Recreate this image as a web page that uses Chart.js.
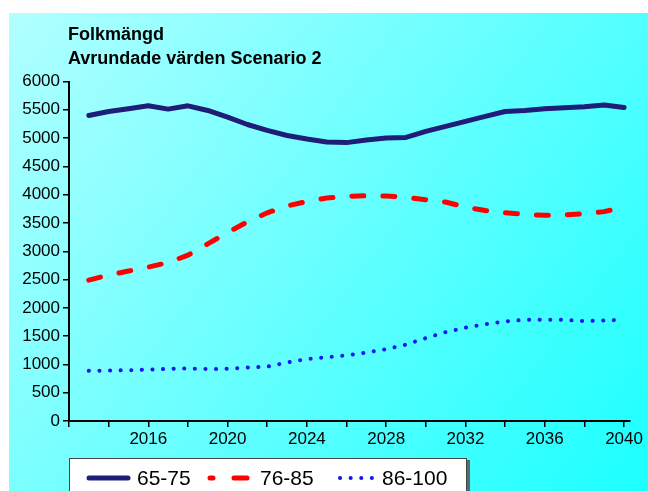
<!DOCTYPE html>
<html>
<head>
<meta charset="utf-8">
<script src="https://cdn.jsdelivr.net/npm/chart.js@4/dist/chart.umd.min.js"></script>
<style>
    body { margin: 0; background: #fff; }
    canvas { display: block; }
</style>
</head>
<body>
<canvas id="folkChart" width="648" height="491"></canvas>
<script>
// Folkmängd, avrundade värden scenario 2
const years = [2013, 2014, 2015, 2016, 2017, 2018, 2019, 2020, 2021, 2022, 2023, 2024, 2025, 2026,
    2027, 2028, 2029, 2030, 2031, 2032, 2033, 2034, 2035, 2036, 2037, 2038, 2039, 2040];
const age65to75 = [5400, 5470, 5520, 5570, 5512, 5570, 5488, 5370, 5240, 5135, 5046, 4983, 4930, 4920,
    4965, 5000, 5012, 5118, 5206, 5295, 5383, 5470, 5488, 5518, 5535, 5553, 5583, 5540];
const age76to85 = [2490, 2580, 2650, 2720, 2800, 2930, 3130, 3330, 3520, 3680, 3800, 3880, 3940, 3970,
    3980, 3975, 3955, 3910, 3870, 3780, 3720, 3680, 3650, 3635, 3640, 3665, 3700, 3780];
const age86to100 = [886, 892, 897, 908, 920, 928, 920, 922, 945, 960, 1035, 1095, 1128, 1160,
    1210, 1270, 1350, 1465, 1570, 1650, 1712, 1760, 1788, 1790, 1787, 1766, 1776, 1790];
const seriesNames = ['65-75', '76-85', '86-100'];
const tickYears = [2012, 2014, 2016, 2018, 2020, 2022, 2024, 2026, 2028, 2030, 2032, 2034, 2036, 2038, 2040];
const labelYears = [2016, 2020, 2024, 2028, 2032, 2036, 2040];
const titleLines = ['Folkmängd', 'Avrundade värden Scenario 2'];

const FONT = "'Liberation Sans', Arial, sans-serif";
const toPoints = vals => years.map((yr, i) => ({ x: yr, y: vals[i] }));

// bakgrund med gradient
const bgPlugin = {
    id: 'bg',
    beforeDraw(chart) {
        const ctx = chart.ctx;
        ctx.save();
        ctx.fillStyle = '#fff';
        ctx.fillRect(0, 0, chart.width, chart.height);
        const g = ctx.createLinearGradient(9, 13, chart.width, chart.height);
        g.addColorStop(0, '#b2ffff');
        g.addColorStop(1, '#1cffff');
        ctx.fillStyle = g;
        ctx.fillRect(9, 13, chart.width - 9, chart.height - 13);
        ctx.restore();
    }
};

// titel + legend ritas för hand
const decoPlugin = {
    id: 'deco',
    afterDraw(chart) {
        const ctx = chart.ctx;
        ctx.save();
        ctx.fillStyle = '#000';
        ctx.font = 'bold 18px ' + FONT;
        ctx.textBaseline = 'alphabetic';
        ctx.fillText(titleLines[0], 68, 40);
        ctx.fillText(titleLines[1], 68, 64);

        // legendruta
        ctx.fillStyle = '#5a6a6a';
        ctx.fillRect(71, 460, 399, 40);
        ctx.fillStyle = '#fff';
        ctx.fillRect(69, 458, 398, 40);
        ctx.strokeStyle = '#444';
        ctx.lineWidth = 1;
        ctx.strokeRect(69.5, 458.5, 397, 40);

        const ds = chart.data.datasets;
        const samples = [
            { x0: 89, x1: 128, tx: 137, dash: [], dashOffset: 0 },
            { x0: 210, x1: 247, tx: 260, dash: [13, 21], dashOffset: 10 },
            { x0: 340, x1: 372, tx: 382, dash: [0.1, 10.5], dashOffset: 0 }
        ];
        const y = 478;
        samples.forEach((s, i) => {
            ctx.save();
            ctx.strokeStyle = ds[i].borderColor;
            ctx.lineWidth = ds[i].borderWidth;
            ctx.lineCap = ds[i].borderCapStyle;
            ctx.setLineDash(s.dash);
            ctx.lineDashOffset = s.dashOffset;
            ctx.beginPath();
            ctx.moveTo(s.x0, y);
            ctx.lineTo(s.x1, y);
            ctx.stroke();
            ctx.restore();
            ctx.fillStyle = '#000';
            ctx.font = '21px ' + FONT;
            ctx.textBaseline = 'middle';
            ctx.fillText(ds[i].label, s.tx, y + 1);
        });
        ctx.restore();
    }
};

const ctxFolk = document.getElementById('folkChart').getContext('2d');
new Chart(ctxFolk, {
    type: 'line',
    data: {
        datasets: [{
            label: seriesNames[0],
            data: toPoints(age65to75),
            borderColor: '#1e1e78',
            borderWidth: 5,
            borderCapStyle: 'round',
            borderJoinStyle: 'round',
            borderDash: [],
            pointRadius: 0,
            tension: 0
        }, {
            label: seriesNames[1],
            data: toPoints(age76to85),
            borderColor: '#ff0000',
            borderWidth: 5,
            borderCapStyle: 'round',
            borderDash: [12, 19],
            pointRadius: 0,
            tension: 0
        }, {
            label: seriesNames[2],
            data: toPoints(age86to100),
            borderColor: '#1414f5',
            borderWidth: 4,
            borderCapStyle: 'round',
            borderDash: [0.1, 10.5],
            pointRadius: 0,
            tension: 0
        }]
    },
    options: {
        responsive: false,
        animation: false,
        devicePixelRatio: 1,
        layout: { padding: { left: 0, top: 81.5, right: 18, bottom: 0 } },
        plugins: {
            legend: { display: false },
            title: { display: false },
            tooltip: { enabled: false }
        },
        scales: {
            x: {
                type: 'linear',
                min: 2012,
                max: 2040.3,
                afterBuildTicks: axis => { axis.ticks = tickYears.map(v => ({ value: v })); },
                afterFit: scale => { scale.height = 70; },
                border: { color: '#000', width: 2 },
                grid: { drawOnChartArea: false, drawTicks: true, tickLength: 6, color: '#000', lineWidth: 1.5 },
                ticks: {
                    autoSkip: false,
                    maxRotation: 0,
                    padding: 2,
                    color: '#000',
                    font: { family: FONT, size: 17 },
                    callback: v => labelYears.includes(v) ? String(v) : ''
                }
            },
            y: {
                min: 0,
                max: 6000,
                afterFit: scale => { scale.width = 69; },
                border: { color: '#000', width: 2 },
                grid: { drawOnChartArea: false, drawTicks: true, tickLength: 6, color: '#000', lineWidth: 1.5 },
                ticks: {
                    stepSize: 500,
                    padding: 3,
                    color: '#000',
                    font: { family: FONT, size: 17 },
                    callback: v => String(v)
                }
            }
        }
    },
    plugins: [bgPlugin, decoPlugin]
});
</script>
</body>
</html>
